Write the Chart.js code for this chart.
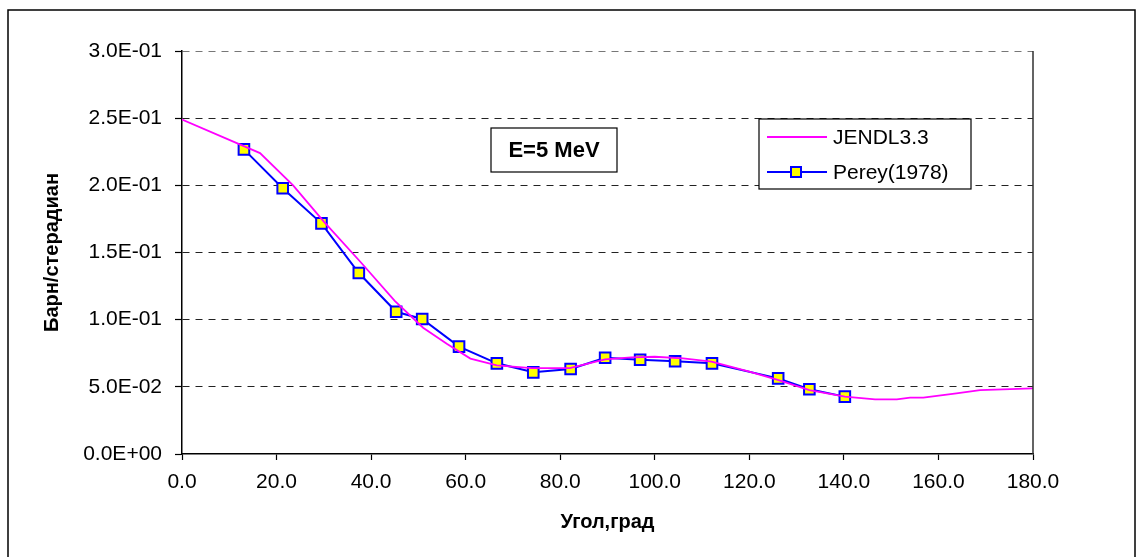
<!DOCTYPE html>
<html>
<head>
<meta charset="utf-8">
<script src="https://cdn.jsdelivr.net/npm/chart.js@4"></script>
<style>
  html, body { margin: 0; padding: 0; background: #fff; }
  canvas { display: block; }
</style>
</head>
<body>
<canvas id="chart" width="1136" height="557"></canvas>
<script>
/* ===== DATA ===== */
const jendlAngle = [0, 16.5, 23.5, 30, 38, 45, 51, 56, 61, 66.6, 74, 82, 89.5, 95, 100, 106, 112, 120, 126, 132.7, 140.2, 146.6, 151.2, 154, 156.8, 163.8, 168.8, 180];
const jendlValue = [0.249, 0.224, 0.200, 0.173, 0.142, 0.114, 0.094, 0.082, 0.071, 0.066, 0.064, 0.064, 0.0705, 0.072, 0.0724, 0.0712, 0.0687, 0.0613, 0.0551, 0.0476, 0.0427, 0.0407, 0.0407, 0.0419, 0.0419, 0.0452, 0.0476, 0.0489];

const pereyAngle = [13.1, 21.3, 29.5, 37.4, 45.3, 50.8, 58.6, 66.6, 74.3, 82.2, 89.5, 96.9, 104.3, 112.1, 126.1, 132.7, 140.2];
const pereyValue = [0.2268, 0.1978, 0.1717, 0.1347, 0.1059, 0.1005, 0.0799, 0.0675, 0.0608, 0.0633, 0.0717, 0.0702, 0.069, 0.0675, 0.0563, 0.0482, 0.0427];

const seriesNames = ['JENDL3.3', 'Perey(1978)'];
const energyLabel = 'E=5 MeV';
const xTitle = 'Угол,град';
const yTitle = 'Барн/стерадиан';
const xRange = [0, 180, 20];
const yRange = [0, 0.3, 0.05];

const MAGENTA = '#ff00ff';
const BLUE = '#0000ff';
const YELLOW = '#ffff00';
const FONT = "'Liberation Sans', Arial, sans-serif";

const toPoints = (xs, ys) => xs.map((x, i) => ({ x, y: ys[i] }));

// 3.0E-01 style labels
function sci(v) {
  if (Math.abs(v) < 1e-12) return '0.0E+00';
  const [m, e] = v.toExponential(1).split('e');
  const n = parseInt(e, 10);
  return m + 'E' + (n < 0 ? '-' : '+') + String(Math.abs(n)).padStart(2, '0');
}

/* ===== FRAME, LEGEND AND ENERGY BOX ===== */
const decorations = {
  id: 'decorations',
  beforeDraw(chart) {
    const ctx = chart.ctx;
    ctx.save();
    ctx.fillStyle = '#fff';
    ctx.fillRect(0, 0, chart.width, chart.height);
    ctx.restore();
  },
  afterDraw(chart) {
    const { ctx, chartArea: a } = chart;
    ctx.save();

    // right side of the plot area
    ctx.strokeStyle = '#303030';
    ctx.lineWidth = 1.5;
    ctx.beginPath();
    ctx.moveTo(a.right, a.top);
    ctx.lineTo(a.right, a.bottom);
    ctx.stroke();

    // outer chart border
    ctx.strokeStyle = '#000';
    ctx.lineWidth = 1.5;
    ctx.strokeRect(8, 10, 1127, 560);

    // energy box
    ctx.fillStyle = '#fff';
    ctx.fillRect(491, 128, 126, 44);
    ctx.lineWidth = 1.2;
    ctx.strokeRect(491, 128, 126, 44);
    ctx.fillStyle = '#000';
    ctx.font = 'bold 22px ' + FONT;
    ctx.textAlign = 'center';
    ctx.textBaseline = 'middle';
    ctx.fillText(energyLabel, 554, 151);

    // legend
    const lx = 759, ly = 119, lw = 212, lh = 70;
    ctx.fillStyle = '#fff';
    ctx.fillRect(lx, ly, lw, lh);
    ctx.strokeStyle = '#000';
    ctx.lineWidth = 1.2;
    ctx.strokeRect(lx, ly, lw, lh);

    const rows = [ly + 18, ly + 53];
    chart.data.datasets.forEach((ds, i) => {
      const y = rows[i];
      ctx.strokeStyle = ds.borderColor;
      ctx.lineWidth = ds.borderWidth;
      ctx.beginPath();
      ctx.moveTo(lx + 8, y);
      ctx.lineTo(lx + 68, y);
      ctx.stroke();
      if (ds.pointRadius > 0) {
        ctx.fillStyle = ds.pointBackgroundColor;
        ctx.fillRect(lx + 32, y - 5, 10, 10);
        ctx.strokeStyle = ds.pointBorderColor;
        ctx.lineWidth = 2;
        ctx.strokeRect(lx + 32, y - 5, 10, 10);
      }
      ctx.fillStyle = '#000';
      ctx.font = '21px ' + FONT;
      ctx.textAlign = 'left';
      ctx.textBaseline = 'middle';
      ctx.fillText(ds.label, lx + 74, y + 1);
    });

    ctx.restore();
  }
};

/* ===== CHART ===== */
new Chart(document.getElementById('chart'), {
  type: 'line',
  data: {
    datasets: [
      {
        label: seriesNames[0],
        data: toPoints(jendlAngle, jendlValue),
        borderColor: MAGENTA,
        borderWidth: 1.8,
        pointRadius: 0,
        tension: 0
      },
      {
        label: seriesNames[1],
        data: toPoints(pereyAngle, pereyValue),
        borderColor: BLUE,
        borderWidth: 2,
        pointStyle: 'rect',
        pointRadius: 7.5,
        pointBackgroundColor: YELLOW,
        pointBorderColor: BLUE,
        pointBorderWidth: 2,
        tension: 0
      }
    ]
  },
  options: {
    responsive: false,
    animation: false,
    layout: { padding: { top: 51, right: 103, bottom: 0, left: 0 } },
    plugins: { legend: { display: false }, tooltip: { enabled: false } },
    scales: {
      x: {
        type: 'linear',
        min: xRange[0],
        max: xRange[1],
        afterFit: s => { s.height = 103; },
        ticks: {
          stepSize: xRange[2],
          color: '#000',
          font: { family: FONT, size: 21 },
          padding: 10,
          maxRotation: 0,
          callback: v => v.toFixed(1)
        },
        grid: { drawOnChartArea: false, tickLength: 6, tickColor: '#000', tickWidth: 1.2 },
        border: { color: '#000', width: 1.5 },
        title: {
          display: true,
          text: xTitle,
          color: '#000',
          font: { family: FONT, size: 20, weight: 'bold' },
          padding: { top: 0, bottom: 23 }
        }
      },
      y: {
        min: yRange[0],
        max: yRange[1],
        afterFit: s => { s.width = 182; },
        ticks: {
          stepSize: yRange[2],
          color: '#000',
          font: { family: FONT, size: 21 },
          padding: 13,
          callback: v => sci(v)
        },
        grid: {
          color: c => (c.tick && Math.abs(c.tick.value) < 1e-9) ? 'rgba(0,0,0,0)'
            : (c.tick && Math.abs(c.tick.value - yRange[1]) < 1e-9) ? '#777' : '#222',
          lineWidth: 1,
          tickLength: 7,
          tickColor: '#000',
          tickWidth: 1.2,
          tickBorderDash: []
        },
        border: { color: '#000', width: 1.5, dash: [7, 6] },
        title: {
          display: true,
          text: yTitle,
          color: '#000',
          font: { family: FONT, size: 20, weight: 'bold' },
          padding: { top: 40, bottom: 0 }
        }
      }
    }
  },
  plugins: [decorations]
});
</script>
</body>
</html>
